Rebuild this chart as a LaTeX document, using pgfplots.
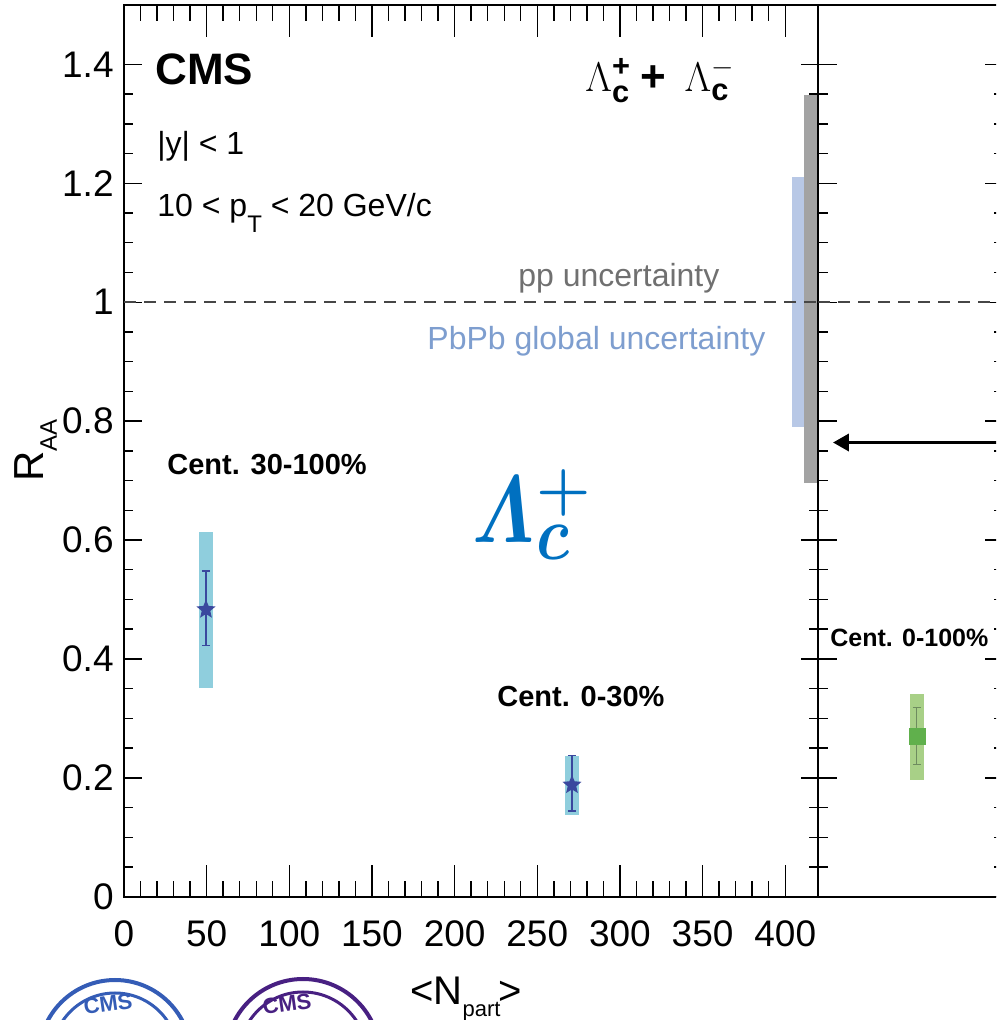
\documentclass[border=0pt]{standalone}
\usepackage{pgfplots}
\pgfplotsset{compat=1.18}
\usepackage{pgfplotstable}
\usepackage{graphicx}
\usepackage{amsmath}
\usepackage{bm}
\usepackage{fontspec}
\setmainfont{Liberation Sans}
\usetikzlibrary{arrows.meta}

\definecolor{systbox}{RGB}{143,206,221}
\definecolor{stardark}{RGB}{58,72,158}
\definecolor{greenbox}{RGB}{168,208,135}
\definecolor{greenmark}{RGB}{96,176,76}
\definecolor{greenbar}{RGB}{110,140,95}
\definecolor{pbpbband}{RGB}{184,200,230}
\definecolor{ppband}{RGB}{163,163,163}
\definecolor{pbpbtext}{RGB}{126,158,207}
\definecolor{pptext}{RGB}{112,112,112}
\definecolor{dashgray}{RGB}{70,70,70}
\definecolor{lamblue}{RGB}{0,112,192}
\definecolor{logoblue}{RGB}{52,92,182}
\definecolor{logopurple}{RGB}{72,32,130}

% filled five-pointed star marker
\pgfdeclareplotmark{fstar}{%
  \pgfpathmoveto{\pgfpointpolar{90}{\pgfplotmarksize}}%
  \pgfpathlineto{\pgfpointpolar{126}{0.45\pgfplotmarksize}}%
  \pgfpathlineto{\pgfpointpolar{162}{\pgfplotmarksize}}%
  \pgfpathlineto{\pgfpointpolar{198}{0.45\pgfplotmarksize}}%
  \pgfpathlineto{\pgfpointpolar{234}{\pgfplotmarksize}}%
  \pgfpathlineto{\pgfpointpolar{270}{0.45\pgfplotmarksize}}%
  \pgfpathlineto{\pgfpointpolar{306}{\pgfplotmarksize}}%
  \pgfpathlineto{\pgfpointpolar{342}{0.45\pgfplotmarksize}}%
  \pgfpathlineto{\pgfpointpolar{18}{\pgfplotmarksize}}%
  \pgfpathlineto{\pgfpointpolar{54}{0.45\pgfplotmarksize}}%
  \pgfpathclose\pgfusepathqfill}

% centrality classes: <Npart>, RAA, stat. errors, syst. box edges
\pgfplotstableread{
npart raa   statp statm systlo systhi
49.6  0.483 0.065 0.061 0.351  0.613
271   0.188 0.049 0.044 0.138  0.237
}\centdata

\pgfplotsset{
  panel/.style={
    anchor=south west, scale only axis,
    height=445.85pt, ymin=0, ymax=1.5,
    tick align=inside, tick pos=both,
    axis line style={line width=1pt},
    tick style={line width=0.7pt, black},
    /pgf/number format/assume math mode=true,
    ticklabel style={font=\fontsize{18.5}{20}\selectfont},
  },
}

\begin{document}
\begin{tikzpicture}
\path[use as bounding box] (0,0) rectangle (498pt,510pt);
\clip (0,0) rectangle (498pt,510pt);

% left panel, x ticks
\begin{axis}[panel, at={(62pt,61.65pt)}, width=347.15pt,
  xmin=0, xmax=420,
  xtick={0,50,100,150,200,250,300,350,400}, minor x tick num=4,
  ytick=\empty,
  major tick length=16pt, minor tick length=8pt,
  xticklabel style={anchor=north, inner sep=0pt, yshift=-12pt},
]
\end{axis}

% left panel, y ticks and data
\begin{axis}[panel, at={(62pt,61.65pt)}, width=347.15pt,
  xmin=0, xmax=420, xtick=\empty,
  ytick={0,0.2,0.4,0.6,0.8,1,1.2,1.4}, minor y tick num=3,
  major tick length=8.75pt, minor tick length=4.5pt,
  yticklabel style={anchor=east, inner sep=0pt, xshift=-5pt},
]
% global uncertainties at RAA = 1
\addplot[fill=pbpbband, draw=none] coordinates {(404.2,0.79) (411.6,0.79) (411.6,1.21) (404.2,1.21)} -- cycle;
\addplot[fill=ppband, draw=none] coordinates {(411.6,0.696) (420,0.696) (420,1.348) (411.6,1.348)} -- cycle;
\addplot[dashgray, line width=0.75pt, dash pattern=on 6pt off 4pt] coordinates {(0,1) (420,1)};
% systematic boxes
\addplot[fill=systbox, draw=none] coordinates {(45.4,0.351) (53.8,0.351) (53.8,0.613) (45.4,0.613)} -- cycle;
\addplot[fill=systbox, draw=none] coordinates {(266.5,0.138) (275.5,0.138) (275.5,0.237) (266.5,0.237)} -- cycle;
% data points with statistical errors
\addplot[only marks, mark=fstar, mark size=5pt, color=stardark,
  error bars/.cd, y dir=both, y explicit,
  error bar style={stardark, line width=0.6pt},
  error mark options={rotate=90, stardark, mark size=2pt, line width=0.6pt}]
  table[x=npart, y=raa, y error plus=statp, y error minus=statm] {\centdata};
\end{axis}

% right panel (integrated centrality)
\begin{axis}[panel, at={(409.15pt,61.65pt)}, width=92.85pt,
  xmin=0, xmax=1, xtick=\empty,
  ytick={0,0.2,0.4,0.6,0.8,1,1.2,1.4}, minor y tick num=3,
  yticklabels={,,,,,,,},
  major tick length=9.5pt, minor tick length=5pt,
]
\addplot[dashgray, line width=0.75pt, dash pattern=on 6pt off 4pt] coordinates {(0,1) (1,1)};
\addplot[fill=greenbox, draw=none] coordinates {(0.494,0.196) (0.569,0.196) (0.569,0.341) (0.494,0.341)} -- cycle;
\addplot[only marks, mark=square*, mark size=4pt, color=greenmark,
  error bars/.cd, y dir=both, y explicit,
  error bar style={greenbar, line width=0.5pt},
  error mark options={rotate=90, greenbar, mark size=2pt, line width=0.5pt}]
  coordinates {(0.531,0.269) += (0,0.049) -= (0,0.046)};
\draw[line width=1.8pt, -{Triangle[length=8pt,width=8.5pt]}] (axis cs:1,0.764) -- (axis cs:0.079,0.764);
\end{axis}

% texts, in a frame measured from the top-left corner
\begin{scope}[x=0.5pt, y=-0.5pt, yshift=510pt]
\node[anchor=base west, inner sep=0pt, font=\fontsize{22}{26}\selectfont\bfseries] at (155,85) {CMS};
\node[anchor=base west, inner sep=0pt, font=\fontsize{16}{19}\selectfont] at (157,155) {|y| < 1};
\node[anchor=base west, inner sep=0pt, font=\fontsize{16}{19}\selectfont] at (157,217)
  {10 < p\raisebox{-8pt}{\fontsize{12}{14}\selectfont T} < 20 GeV/c};
\node[anchor=base west, inner sep=0pt, font=\fontsize{22}{26}\selectfont] at (585,92)
  {$\Lambda_{\textbf{c}}^{\textbf{+}}$\hspace{5pt}\textbf{+}\hspace{9pt}$\Lambda_{\textbf{c}}^{-}$};
\node[anchor=base west, inner sep=0pt, text=pptext, font=\fontsize{16}{19}\selectfont] at (518,287) {pp uncertainty};
\node[anchor=base west, inner sep=0pt, text=pbpbtext, font=\fontsize{16}{19}\selectfont] at (427,350) {PbPb global uncertainty};
\node[anchor=base west, inner sep=0pt, font=\fontsize{14.5}{17}\selectfont\bfseries] at (167,475) {Cent. 30-100\%};
\node[anchor=base west, inner sep=0pt, font=\fontsize{14.5}{17}\selectfont\bfseries] at (497,707) {Cent. 0-30\%};
\node[anchor=base west, inner sep=0pt, font=\fontsize{12.5}{15}\selectfont\bfseries] at (830,647) {Cent. 0-100\%};
% big species label
\node[anchor=base west, inner sep=0pt, text=lamblue, font=\fontsize{20}{24}\selectfont] at (472,543)
  {\scalebox{1.85}[2.3]{$\bm{\varLambda}$}\hspace{1pt}\rlap{\raisebox{17pt}{\scalebox{1.5}{$\bm{+}$}}}\raisebox{-8.5pt}{\scalebox{1.55}[1.85]{$\bm{c}$}}};
% axis titles
\node[anchor=base west, inner sep=0pt, rotate=90, font=\fontsize{21}{24}\selectfont] at (43,482)
  {R\raisebox{-7pt}{\fontsize{12}{14}\selectfont AA}};
\node[anchor=base west, inner sep=0pt, font=\fontsize{20}{24}\selectfont] at (410,1005)
  {<N\raisebox{-6pt}{\fontsize{11}{13}\selectfont part}\hspace{-1pt}>};
% collaboration logos
\draw[logoblue, line width=2pt] (115,1056) circle[radius=76];
\draw[logoblue, line width=1.5pt] (115,1056) circle[radius=63];
\node[text=logoblue, inner sep=0pt, font=\fontsize{11}{13}\selectfont\bfseries, rotate=8] at (108,1004) {CMS};
\draw[logopurple, line width=2pt] (303,1056) circle[radius=77];
\draw[logopurple, line width=1.5pt] (303,1056) circle[radius=64];
\node[text=logopurple, inner sep=0pt, font=\fontsize{11}{13}\selectfont\bfseries, rotate=8] at (287,1004) {CMS};
\end{scope}
\end{tikzpicture}
\end{document}
